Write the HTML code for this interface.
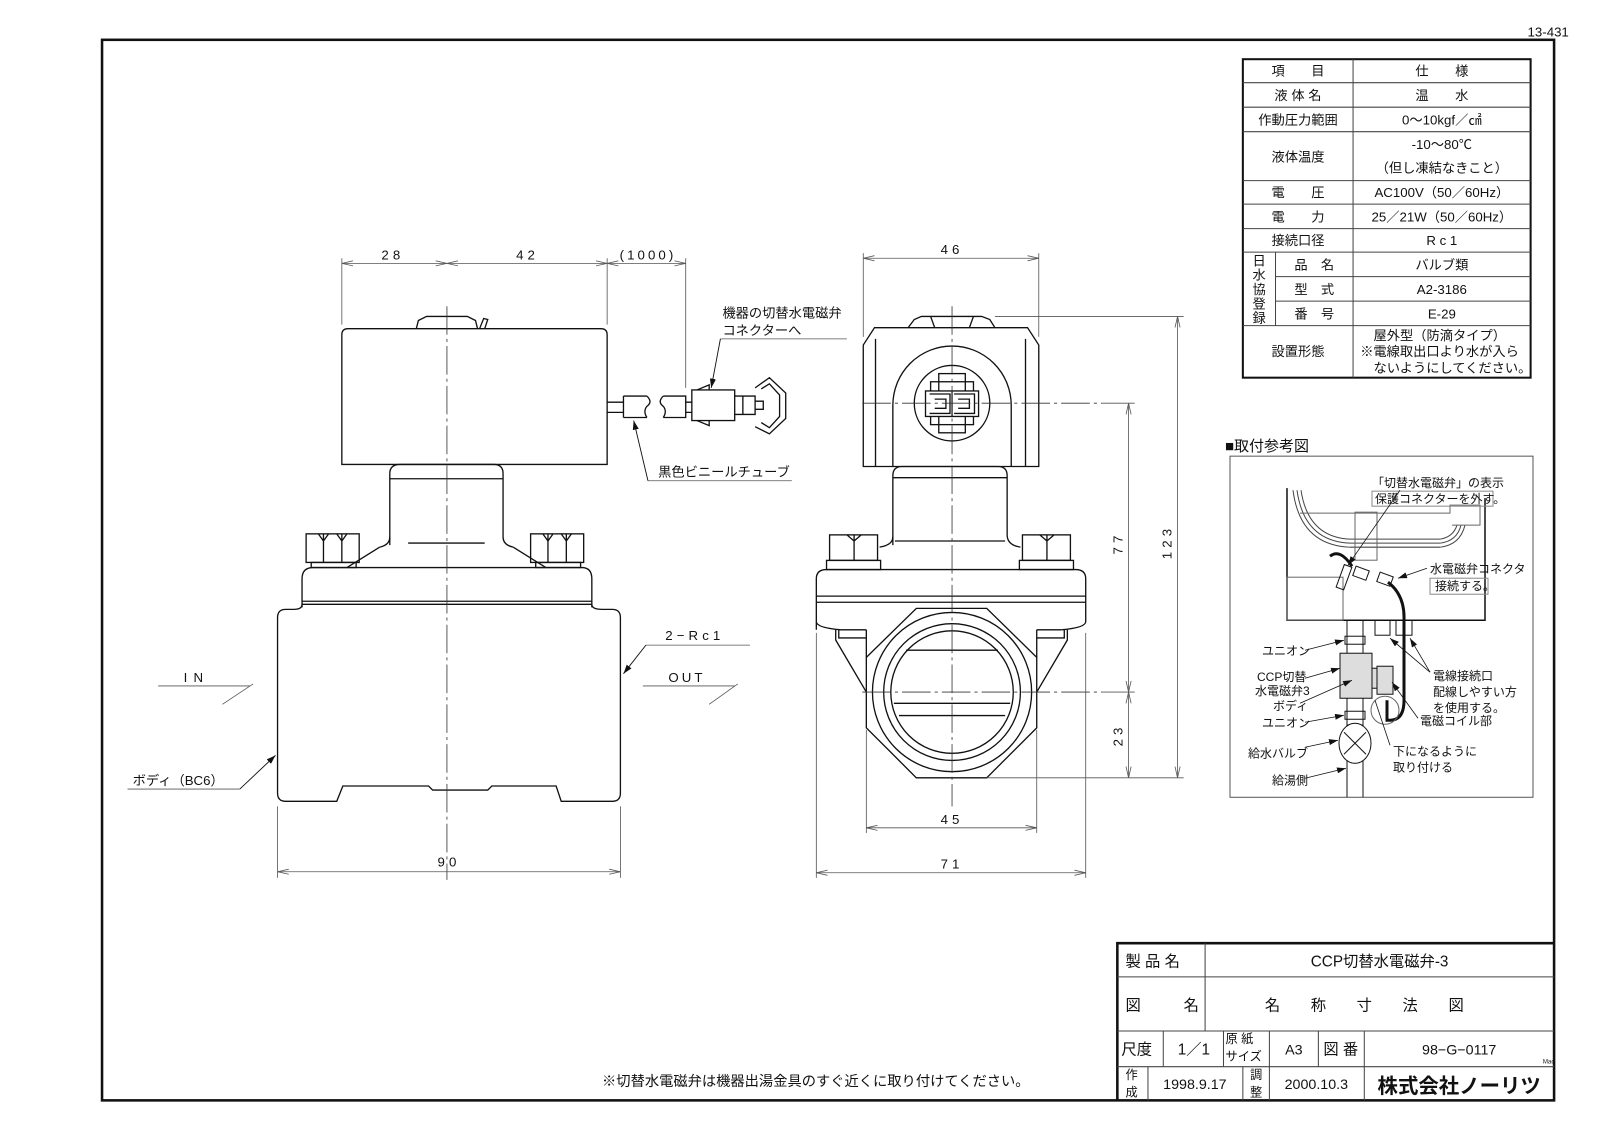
<!DOCTYPE html>
<html><head><meta charset="utf-8"><style>
html,body{margin:0;padding:0;background:#fff;}
svg{display:block;}
text{font-family:"Liberation Sans","Noto Sans CJK JP",sans-serif;fill:#111;}
</style></head><body>
<svg width="1600" height="1131" viewBox="0 0 1568 1108" preserveAspectRatio="none" xmlns="http://www.w3.org/2000/svg">
<defs>
<marker id="a" markerWidth="12" markerHeight="6" refX="11" refY="3" orient="auto-start-reverse" markerUnits="userSpaceOnUse"><path d="M0,0.5 L11,3 L0,5.5" fill="none" stroke="#555" stroke-width="0.8"/></marker>
<marker id="f" markerWidth="10" markerHeight="6" refX="9" refY="3" orient="auto" markerUnits="userSpaceOnUse"><path d="M0,0 L9,3 L0,6 Z" fill="#111"/></marker>
</defs>
<rect width="1568" height="1108" fill="#fff"/>
<text x="1497" y="36" font-size="13">13-431</text>
<rect x="100" y="39" width="1423" height="1039" fill="none" stroke="#111" stroke-width="2.5"/>

<!-- spec table -->
<g stroke="#111" fill="none">
<rect x="1218" y="58" width="282" height="312" stroke-width="2"/>
<g stroke-width="1" stroke="#444">
<line x1="1326" y1="58" x2="1326" y2="370"/>
<line x1="1250" y1="247" x2="1250" y2="319"/>
<line x1="1218" y1="81" x2="1500" y2="81"/><line x1="1218" y1="105" x2="1500" y2="105"/>
<line x1="1218" y1="129" x2="1500" y2="129"/><line x1="1218" y1="177" x2="1500" y2="177"/>
<line x1="1218" y1="200" x2="1500" y2="200"/><line x1="1218" y1="224" x2="1500" y2="224"/>
<line x1="1218" y1="247" x2="1500" y2="247"/><line x1="1250" y1="271" x2="1500" y2="271"/>
<line x1="1250" y1="295" x2="1500" y2="295"/><line x1="1218" y1="319" x2="1500" y2="319"/>
</g></g>
<g font-size="13" text-anchor="middle">
<text x="1272" y="74">項　　目</text><text x="1413" y="74">仕　　様</text>
<text x="1272" y="98">液 体 名</text><text x="1413" y="98">温　　水</text>
<text x="1272" y="122">作動圧力範囲</text><text x="1413" y="122">0〜10kgf／㎠</text>
<text x="1272" y="158">液体温度</text><text x="1413" y="146">-10〜80℃</text><text x="1413" y="169">（但し凍結なきこと）</text>
<text x="1272" y="193">電　　圧</text><text x="1413" y="193">AC100V（50／60Hz）</text>
<text x="1272" y="217">電　　力</text><text x="1413" y="217">25／21W（50／60Hz）</text>
<text x="1272" y="240">接続口径</text><text x="1413" y="240">R c 1</text>
<text x="1288" y="264">品　名</text><text x="1413" y="264">バルブ類</text>
<text x="1288" y="288">型　式</text><text x="1413" y="288">A2-3186</text>
<text x="1288" y="312">番　号</text><text x="1413" y="312">E-29</text>
<text x="1234" y="260">日</text><text x="1234" y="274">水</text><text x="1234" y="288">協</text><text x="1234" y="302">登</text><text x="1234" y="316">録</text>
<text x="1272" y="349">設置形態</text>
</g>
<g font-size="13"><text x="1346" y="333">屋外型（防滴タイプ）</text><text x="1333" y="349">※電線取出口より水が入ら</text><text x="1346" y="365">ないようにしてください。</text></g>

<!-- title block -->
<g stroke="#111" fill="none">
<path d="M1095,1078 V924 H1523" stroke-width="2.5"/>
<g stroke-width="1" stroke="#444">
<line x1="1095" y1="957" x2="1523" y2="957"/><line x1="1095" y1="1010" x2="1523" y2="1010"/><line x1="1095" y1="1045" x2="1523" y2="1045"/>
<line x1="1181" y1="924" x2="1181" y2="1010"/>
<line x1="1140" y1="1010" x2="1140" y2="1045"/><line x1="1199" y1="1010" x2="1199" y2="1045"/><line x1="1244" y1="1010" x2="1244" y2="1078"/><line x1="1292" y1="1010" x2="1292" y2="1045"/><line x1="1337" y1="1010" x2="1337" y2="1078"/>
<line x1="1125" y1="1045" x2="1125" y2="1078"/><line x1="1218" y1="1045" x2="1218" y2="1078"/>
</g></g>
<g font-size="15">
<text x="1103" y="947">製 品 名</text><text x="1352" y="947" text-anchor="middle">CCP切替水電磁弁-3</text>
<text x="1103" y="990">図</text><text x="1160" y="990">名</text>
<text x="1352" y="990" text-anchor="middle" letter-spacing="30">名称寸法図</text>
<text x="1099" y="1033">尺度</text><text x="1170" y="1033" text-anchor="middle">1／1</text>
<text x="1268" y="1033" text-anchor="middle" font-size="14">A3</text><text x="1314" y="1033" text-anchor="middle">図 番</text>
<text x="1430" y="1033" text-anchor="middle" font-size="14">98−G−0117</text>
<text x="1171" y="1067" text-anchor="middle" font-size="14">1998.9.17</text><text x="1290" y="1067" text-anchor="middle" font-size="14">2000.10.3</text>
</g>
<g font-size="12"><text x="1201" y="1022">原 紙</text><text x="1201" y="1039">サイズ</text>
<text x="1103" y="1057">作</text><text x="1103" y="1074">成</text><text x="1225" y="1057">調</text><text x="1225" y="1074">整</text></g>
<text x="1512" y="1042" font-size="6">Mac</text>
<text x="1430" y="1071" text-anchor="middle" font-size="20" font-weight="bold">株式会社ノーリツ</text>
<text x="590" y="1064" font-size="14">※切替水電磁弁は機器出湯金具のすぐ近くに取り付けてください。</text>

<!-- LEFT VIEW -->
<g fill="none" stroke="#111" stroke-width="1.3">
<path d="M335,455 V328 Q335,322 341,322 H589 Q595,322 595,328 V455 Z"/>
<path d="M408,322 L410,314 L418,310 H458 L466,314 L468,322"/>
<path d="M470,322 L474,312 L478,313 L475,322"/>
<path d="M382,534 Q382,464 382,464 Q382,455 392,455 H484 Q493,455 493,464 V526 Q493,534 503,536"/>
<path d="M382,526 Q382,534 372,536"/>
<line x1="382" y1="469" x2="493" y2="469"/><line x1="400" y1="532" x2="475" y2="532"/>
<path d="M372,536 L340,556 M503,536 L535,556"/>
<rect x="300" y="523" width="52" height="28"/><rect x="305" y="551" width="44" height="5"/>
<path d="M317,523 V551 M335,523 V551 M312,523 L317,530 L322,523 M330,523 L335,530 L340,523"/>
<rect x="520" y="523" width="52" height="28"/><rect x="525" y="551" width="44" height="5"/>
<path d="M537,523 V551 M555,523 V551 M532,523 L537,530 L542,523 M550,523 L555,530 L560,523"/>
<path d="M296,595 V567 Q296,556 307,556 H570 Q580,556 580,567 V595"/>
<line x1="296" y1="589" x2="580" y2="589"/><line x1="296" y1="592" x2="580" y2="592"/>
<path d="M296,592 Q296,597 288,597 H280 Q272,597 272,605 V777 Q272,785 280,785 H330 L336,770 H420 L424,774 H478 L482,770 H545 L550,785 H600 Q608,785 608,777 V605 Q608,597 600,597 H590 Q580,597 580,592"/>
<!-- cable -->
<path d="M595,394 H611 M595,404 H611"/>
<path d="M611,388 H634 M611,409 H634 M611,388 V409"/>
<path d="M634,388 Q640,394 634,398 Q630,403 634,409"/>
<path d="M650,388 Q644,394 650,398 Q654,403 650,409 M650,388 H672 V409 H650"/>
<path d="M672,394 H678 M672,404 H678"/>
<rect x="678" y="382" width="42" height="30"/>
<path d="M683,382 L695,377 V382 M683,412 L695,417 V412"/>
<path d="M720,388 H740 V406 H720 M728,388 V406 M740,393 H748 V401 H740"/>
<path d="M740,380 L754,370 L770,385 V410 L754,425 L740,418 M746,381 L754,376 L764,387 V408 L754,419 L746,414"/>
</g>
<line x1="438" y1="300" x2="438" y2="862" stroke="#333" stroke-width="0.8" stroke-dasharray="28,4,3,4"/>
<g stroke="#555" stroke-width="0.8" fill="none">
<line x1="335" y1="253" x2="335" y2="318"/><line x1="595" y1="253" x2="595" y2="318"/><line x1="672" y1="253" x2="672" y2="380"/>
<line x1="335" y1="258" x2="438" y2="258" marker-start="url(#a)" marker-end="url(#a)"/>
<line x1="438" y1="258" x2="595" y2="258" marker-start="url(#a)" marker-end="url(#a)"/>
<line x1="595" y1="258" x2="672" y2="258" marker-start="url(#a)" marker-end="url(#a)"/>
<line x1="272" y1="790" x2="272" y2="860"/><line x1="608" y1="790" x2="608" y2="860"/>
<line x1="272" y1="854" x2="608" y2="854" marker-start="url(#a)" marker-end="url(#a)"/>
<path d="M706,332 H830 M635,471 H776 M155,672 H245 M630,672 H720 M633,632 H735 M125,773 H235"/>
<path d="M248,670 L218,690 M723,670 L695,690"/>
</g>
<g stroke="#111" stroke-width="0.9" fill="none">
<line x1="706" y1="332" x2="697" y2="380" marker-end="url(#f)"/>
<line x1="635" y1="471" x2="621" y2="412" marker-end="url(#f)"/>
<line x1="633" y1="632" x2="611" y2="660" marker-end="url(#f)"/>
<line x1="235" y1="773" x2="270" y2="740" marker-end="url(#f)"/>
</g>
<g font-size="13">
<text x="385" y="254" text-anchor="middle" letter-spacing="4">28</text>
<text x="517" y="254" text-anchor="middle" letter-spacing="4">42</text>
<text x="635" y="254" text-anchor="middle" letter-spacing="3">(1000)</text>
<text x="708" y="311">機器の切替水電磁弁</text><text x="708" y="328">コネクターへ</text>
<text x="645" y="467">黒色ビニールチューブ</text>
<text x="180" y="668" letter-spacing="6">IN</text><text x="655" y="668" letter-spacing="3">OUT</text>
<text x="652" y="627" letter-spacing="4">2−Rc1</text>
<text x="130" y="769">ボディ（BC6）</text>
<text x="440" y="849" text-anchor="middle" letter-spacing="4">90</text>
</g>

<!-- MIDDLE VIEW -->
<g fill="none" stroke="#111" stroke-width="1.3">
<path d="M890,321 L896,313 L903,310 H962 L970,313 L975,321"/>
<path d="M912,310 L916,321 M954,310 L950,321"/>
<path d="M846,457 V338 L857,321 H1007 L1018,338 V457 Z"/>
<path d="M858,332 V457 M1005,332 V457"/>
<path d="M875,457 V397 A58,58 0 0 1 991,397 V457"/>
<circle cx="933" cy="395" r="37"/>
<rect x="920" y="366" width="26" height="58"/>
<rect x="912" y="374" width="42" height="42"/>
<rect x="907" y="383" width="52" height="25" fill="#fff"/>
<path d="M933,383 V408 M911,386 H931 V405 H911 M935,386 H955 V405 H935 M916,391 H927 V400 H916 M939,391 H950 V400 H939"/>
<path d="M875,534 V466 Q875,457 884,457 H978 Q987,457 987,466 V524 Q987,534 1000,536"/>
<path d="M875,526 Q875,534 862,536"/>
<line x1="875" y1="468" x2="987" y2="468"/><line x1="877" y1="530" x2="985" y2="530"/>
<rect x="813" y="524" width="47" height="25"/><rect x="810" y="549" width="53" height="9"/><path d="M837,524 V549 M830,524 L837,530 L844,524"/>
<rect x="1002" y="524" width="47" height="25"/><rect x="999" y="549" width="53" height="9"/><path d="M1026,524 V549 M1019,524 L1026,530 L1033,524"/>
<path d="M800,617 V567 Q800,558 810,558 H1054 Q1064,558 1064,567 V609 Q1064,615 1040,617"/>
<path d="M800,609 Q800,615 824,617 H849 M1016,617 H1040"/>
<line x1="800" y1="584" x2="1064" y2="584"/><line x1="800" y1="590" x2="1064" y2="590"/>
<path d="M898,596 H967 L1016,644 V713 L967,762 H898 L849,713 V644 Z"/>
<path d="M849,617 V644 M1016,617 V644"/>
<path d="M819,617 V627 L849,678 M822,617 V625 H849 M1046,617 V627 L1016,678 M1043,617 V625 H1016"/>
<circle cx="933" cy="678" r="78"/><circle cx="933" cy="678" r="67"/><circle cx="933" cy="678" r="60"/>
<path d="M888,637 H978 M876,689 H990 M881,701 H985"/>
</g>
<g stroke="#333" stroke-width="0.8" fill="none" stroke-dasharray="28,4,3,4">
<line x1="933" y1="300" x2="933" y2="790"/>
<line x1="845" y1="395" x2="1080" y2="395"/>
<line x1="845" y1="678" x2="1080" y2="678"/>
</g>
<g stroke="#555" stroke-width="0.8" fill="none">
<line x1="846" y1="248" x2="846" y2="330"/><line x1="1018" y1="248" x2="1018" y2="330"/>
<line x1="846" y1="253" x2="1018" y2="253" marker-start="url(#a)" marker-end="url(#a)"/>
<path d="M975,310 H1160 M1080,395 H1112 M1080,678 H1112 M967,762 H1160"/>
<line x1="1106" y1="395" x2="1106" y2="678" marker-start="url(#a)" marker-end="url(#a)"/>
<line x1="1106" y1="678" x2="1106" y2="762" marker-start="url(#a)" marker-end="url(#a)"/>
<line x1="1154" y1="310" x2="1154" y2="762" marker-start="url(#a)" marker-end="url(#a)"/>
<line x1="849" y1="715" x2="849" y2="816"/><line x1="1016" y1="715" x2="1016" y2="816"/>
<line x1="849" y1="811" x2="1016" y2="811" marker-start="url(#a)" marker-end="url(#a)"/>
<line x1="800" y1="620" x2="800" y2="860"/><line x1="1064" y1="620" x2="1064" y2="860"/>
<line x1="800" y1="855" x2="1064" y2="855" marker-start="url(#a)" marker-end="url(#a)"/>
</g>
<g font-size="13" text-anchor="middle" letter-spacing="4">
<text x="933" y="249">46</text><text x="933" y="807">45</text><text x="933" y="851">71</text>
<text transform="translate(1100,532) rotate(-90)">77</text>
<text transform="translate(1100,720) rotate(-90)">23</text>
<text transform="translate(1148,531) rotate(-90)">123</text>
</g>

<!-- INSTALL DIAGRAM (actual coords) -->
<g transform="scale(0.98)">
<text x="1225" y="451" font-size="15">■取付参考図</text>
<rect x="1230" y="456" width="303" height="341" fill="none" stroke="#555" stroke-width="1"/>
<g fill="none" stroke="#111" stroke-width="1">
<path d="M1287,488 V620 H1485 V498" stroke-width="1.5"/>
<path d="M1293,490 Q1300,545 1350,547 H1440 Q1460,545 1465,525 M1297,490 Q1304,541 1350,543 H1440 Q1457,541 1461,525 M1301,490 Q1308,537 1350,539 H1440 Q1453,537 1457,525" stroke="#444"/>
<path d="M1300,513 H1450 V505 H1480 V525 H1452" stroke="#666"/>
<rect x="1355" y="512" width="22" height="48" stroke="#666"/>
<rect x="1287" y="577" width="56" height="43" stroke="#666"/>
<path d="M1330,556 Q1340,548 1352,566" stroke-width="3"/>
<rect x="1340" y="565" width="8" height="24" transform="rotate(20 1344 577)"/>
<rect x="1354" y="568" width="14" height="10" transform="rotate(20 1361 573)"/>
<rect x="1378" y="574" width="14" height="10" transform="rotate(20 1385 579)"/>
<path d="M1388,582 Q1405,595 1404,620 V700 Q1404,720 1390,720 H1387 V700" stroke-width="3"/>
<rect x="1375" y="620" width="15" height="15"/><rect x="1396" y="620" width="16" height="15"/>
<path d="M1347,620 V797 M1363,620 V797"/>
<rect x="1345" y="636" width="20" height="8"/><rect x="1345" y="711" width="20" height="8"/>
<rect x="1340" y="653" width="32" height="45" fill="#ddd"/>
<rect x="1372" y="668" width="5" height="20" fill="#ddd"/>
<rect x="1377" y="666" width="16" height="28" fill="#ddd"/>
<circle cx="1385" cy="710" r="14" stroke="#666"/>
<ellipse cx="1355" cy="743" rx="16" ry="20" fill="#fff"/>
<path d="M1344,732 L1366,754 M1366,732 L1344,754"/>
<rect x="1372" y="491" width="121" height="15" stroke="#888"/>
<rect x="1430" y="578" width="58" height="16" stroke="#888"/>
</g>
<g stroke="#111" stroke-width="0.8" fill="none">
<line x1="1400" y1="490" x2="1348" y2="565" marker-end="url(#f)"/>
<line x1="1427" y1="568" x2="1398" y2="578" marker-end="url(#f)"/>
<line x1="1305" y1="650" x2="1344" y2="640" marker-end="url(#f)"/>
<line x1="1305" y1="678" x2="1340" y2="668" marker-end="url(#f)"/>
<line x1="1300" y1="703" x2="1352" y2="680" marker-end="url(#f)"/>
<line x1="1305" y1="722" x2="1344" y2="715" marker-end="url(#f)"/>
<line x1="1305" y1="747" x2="1338" y2="740" marker-end="url(#f)"/>
<line x1="1305" y1="778" x2="1346" y2="768" marker-end="url(#f)"/>
<line x1="1430" y1="672" x2="1390" y2="638" marker-end="url(#f)"/>
<line x1="1430" y1="672" x2="1410" y2="638" marker-end="url(#f)"/>
<line x1="1418" y1="718" x2="1392" y2="682" marker-end="url(#f)"/>
<line x1="1390" y1="745" x2="1375" y2="700"/>
</g>
<g font-size="12">
<text x="1372" y="487">「切替水電磁弁」の表示</text>
<text x="1375" y="503">保護コネクターを外す。</text>
<text x="1430" y="573">水電磁弁コネクタ</text><text x="1435" y="590">接続する。</text>
<text x="1262" y="655">ユニオン</text><text x="1257" y="681">CCP切替</text><text x="1255" y="695">水電磁弁3</text>
<text x="1273" y="710">ボディ</text><text x="1262" y="727">ユニオン</text><text x="1248" y="757">給水バルブ</text><text x="1272" y="784">給湯側</text>
<text x="1433" y="680">電線接続口</text><text x="1433" y="696">配線しやすい方</text><text x="1433" y="712">を使用する。</text>
<text x="1420" y="725">電磁コイル部</text>
<text x="1393" y="755">下になるように</text><text x="1393" y="771">取り付ける</text>
</g>
</g>
</svg>
</body></html>
